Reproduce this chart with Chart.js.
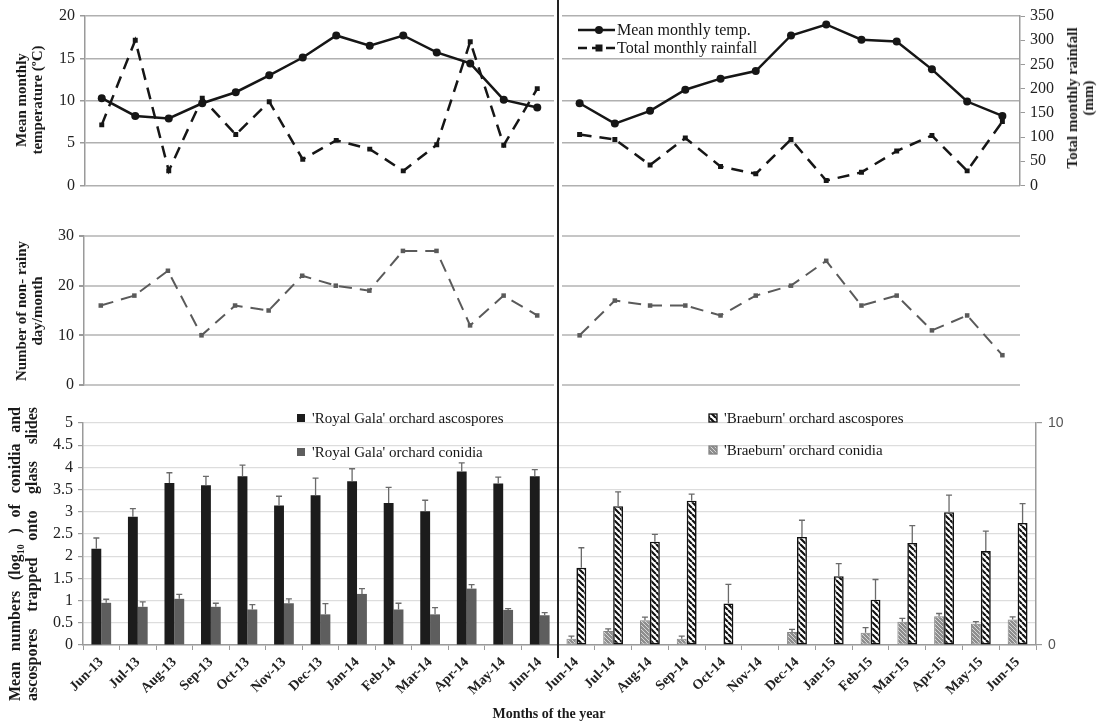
<!DOCTYPE html>
<html>
<head>
<meta charset="utf-8">
<script src="https://cdn.jsdelivr.net/npm/chart.js@4.4.1/dist/chart.umd.min.js"></script>
<style>
  html, body { margin: 0; padding: 0; background: #fff; }
  #page { position: relative; width: 1104px; height: 725px; overflow: hidden; font-family: "Liberation Serif", "Times New Roman", serif; color: #1a1a1a; }
  .box { position: absolute; }
  .box canvas { display: block; }
  .ytitle { position: absolute; font-weight: bold; font-size: 15px; line-height: 16px; text-align: center; white-space: nowrap;
            transform: translate(-50%, -50%) rotate(-90deg); transform-origin: center center; }
  .ytitle.just { white-space: normal; text-align: justify; text-align-last: justify; font-size: 16px; line-height: 17px; }
  .ytitle sub { font-size: 10px; line-height: 0; }
  .xtitle { position: absolute; font-weight: bold; font-size: 14px; transform: translate(-50%, -50%); white-space: nowrap; }
  .divider { position: absolute; left: 557px; top: 0; width: 2px; height: 658px; background: #222; }
</style>
</head>
<body>
<div id="page">
  <div class="box" style="left:0;top:0;width:558px;height:200px"><canvas id="topLeft" width="558" height="200"></canvas></div>
  <div class="box" style="left:558px;top:0;width:546px;height:200px"><canvas id="topRight" width="546" height="200"></canvas></div>
  <div class="box" style="left:0;top:200px;width:558px;height:200px"><canvas id="midLeft" width="558" height="200"></canvas></div>
  <div class="box" style="left:558px;top:200px;width:546px;height:200px"><canvas id="midRight" width="546" height="200"></canvas></div>
  <div class="box" style="left:0;top:400px;width:558px;height:325px"><canvas id="botLeft" width="558" height="325"></canvas></div>
  <div class="box" style="left:500px;top:400px;width:604px;height:325px"><canvas id="botRight" width="604" height="325"></canvas></div>

  <div class="ytitle" style="left:29px;top:100px">Mean monthly<br>temperature (ºC)</div>
  <div class="ytitle" style="left:1080px;top:98px">Total monthly rainfall<br>(mm)</div>
  <div class="ytitle" style="left:29px;top:311px">Number of non- rainy<br>day/month</div>
  <div class="ytitle just" style="left:23px;top:554px;width:294px">Mean numbers (log<sub>10</sub> ) of conidia and ascospores trapped onto glass slides</div>
  <div class="xtitle" style="left:549px;top:714px">Months of the year</div>
  <div class="divider"></div>
</div>

<script>
// ---- Weather, Royal Gala season (Jun-13 onwards) ----
const weatherMonthsA = ['Jun-13','Jul-13','Aug-13','Sep-13','Oct-13','Nov-13','Dec-13','Jan-14','Feb-14','Mar-14','Apr-14','May-14','Jun-14','Jul-14'];
const tempA     = [10.3, 8.2, 7.9, 9.7, 11.0, 13.0, 15.1, 17.7, 16.5, 17.7, 15.7, 14.4, 10.1, 9.2];
const rainA     = [125, 300, 30, 180, 105, 173, 54, 93, 75, 30, 84, 297, 83, 200];
const dryDaysA  = [16, 18, 23, 10, 16, 15, 22, 20, 19, 27, 27, 12, 18, 14];

// ---- Weather, Braeburn season (Jun-14 onwards) ----
const weatherMonthsB = ['Jun-14','Jul-14','Aug-14','Sep-14','Oct-14','Nov-14','Dec-14','Jan-15','Feb-15','Mar-15','Apr-15','May-15','Jun-15'];
const tempB     = [9.7, 7.3, 8.8, 11.3, 12.6, 13.5, 17.7, 19.0, 17.2, 17.0, 13.7, 9.9, 8.2];
const rainB     = [105, 95, 42, 98, 39, 24, 95, 10, 27, 71, 103, 30, 132];
const dryDaysB  = [10, 17, 16, 16, 14, 18, 20, 25, 16, 18, 11, 14, 6];

// ---- Spore trapping ----
const monthsA = ['Jun-13','Jul-13','Aug-13','Sep-13','Oct-13','Nov-13','Dec-13','Jan-14','Feb-14','Mar-14','Apr-14','May-14','Jun-14'];
const monthsB = ['Jun-14','Jul-14','Aug-14','Sep-14','Oct-14','Nov-14','Dec-14','Jan-15','Feb-15','Mar-15','Apr-15','May-15','Jun-15'];
const galaAsco      = [2.17, 2.89, 3.65, 3.60, 3.80, 3.14, 3.37, 3.69, 3.20, 3.01, 3.91, 3.64, 3.80];
const galaAscoErr   = [0.24, 0.18, 0.23, 0.20, 0.25, 0.21, 0.39, 0.28, 0.35, 0.25, 0.19, 0.14, 0.15];
const galaConidia   = [0.95, 0.86, 1.04, 0.86, 0.80, 0.94, 0.69, 1.15, 0.80, 0.69, 1.27, 0.79, 0.67];
const galaConidErr  = [0.08, 0.11, 0.10, 0.08, 0.11, 0.10, 0.24, 0.12, 0.14, 0.15, 0.09, 0.03, 0.06];
const braeAsco      = [3.48, 6.25, 4.65, 6.50, 1.87, 0, 4.87, 3.10, 2.04, 4.60, 5.98, 4.23, 5.50];
const braeAscoErr   = [0.90, 0.65, 0.33, 0.30, 0.86, 0, 0.75, 0.57, 0.91, 0.78, 0.77, 0.90, 0.87];
const braeConidia   = [0.28, 0.63, 1.11, 0.28, 0, 0, 0.58, 0, 0.55, 1.05, 1.30, 0.96, 1.15];
const braeConidErr  = [0.12, 0.10, 0.15, 0.12, 0, 0, 0.12, 0, 0.23, 0.15, 0.12, 0.09, 0.12];

// ---- Look ----
const SERIF = '"Liberation Serif", "Times New Roman", serif';
const SANS = '"Liberation Sans", Arial, sans-serif';
const INK = '#161616';
const AXIS = '#9a9a9a';

function hatch(bg, fg, size, lw) {
  const c = document.createElement('canvas');
  c.width = c.height = size;
  const g = c.getContext('2d');
  g.fillStyle = bg; g.fillRect(0, 0, size, size);
  g.strokeStyle = fg; g.lineWidth = lw;
  g.beginPath();
  for (let k = -size; k <= size; k += size) { g.moveTo(k, 0); g.lineTo(k + size, size); }
  g.stroke();
  return g.createPattern(c, 'repeat');
}
const ascoHatch = hatch('#ffffff', '#111111', 6, 2.2);
const conidHatch = hatch('#8e8e8e', '#d6d6d6', 4, 1);

// upward whiskers with a short cap
const errorBars = {
  id: 'errorBars',
  afterDatasetsDraw(chart) {
    const ctx = chart.ctx;
    chart.data.datasets.forEach((ds, i) => {
      if (!ds.errors) return;
      const meta = chart.getDatasetMeta(i);
      const scale = chart.scales[meta.yAxisID];
      ctx.save();
      ctx.strokeStyle = '#6a6a6a';
      ctx.lineWidth = 1.3;
      meta.data.forEach((bar, j) => {
        const v = ds.data[j], e = ds.errors[j];
        if (v == null || !e) return;
        const top = scale.getPixelForValue(v + e);
        ctx.beginPath();
        ctx.moveTo(bar.x, bar.y); ctx.lineTo(bar.x, top);
        ctx.moveTo(bar.x - 3, top); ctx.lineTo(bar.x + 3, top);
        ctx.stroke();
      });
      ctx.restore();
    });
  }
};

// legend entries placed inside the plot
const inlineLegend = {
  id: 'inlineLegend',
  afterDraw(chart, args, opts) {
    const ctx = chart.ctx;
    (opts.items || []).forEach(it => {
      ctx.save();
      if (it.kind === 'line') {
        ctx.strokeStyle = INK; ctx.fillStyle = INK; ctx.lineWidth = 2.5;
        ctx.setLineDash(it.dash || []);
        ctx.beginPath(); ctx.moveTo(it.x, it.y); ctx.lineTo(it.x + 37, it.y); ctx.stroke();
        ctx.setLineDash([]);
        const cx = it.x + 21;
        if (it.marker === 'circle') { ctx.beginPath(); ctx.arc(cx, it.y, 4, 0, Math.PI * 2); ctx.fill(); }
        else { ctx.fillRect(cx - 3.5, it.y - 3.5, 7, 7); }
        ctx.fillStyle = INK;
        ctx.font = '16px ' + SERIF;
        ctx.textBaseline = 'middle';
        ctx.fillText(it.text, it.x + 39, it.y + 1);
      } else {
        ctx.fillStyle = it.fill;
        ctx.fillRect(it.x, it.y - 4, 8, 8);
        if (it.stroke) { ctx.strokeStyle = it.stroke; ctx.lineWidth = 1.3; ctx.strokeRect(it.x, it.y - 4, 8, 8); }
        ctx.fillStyle = INK;
        ctx.font = '15px ' + SERIF;
        ctx.textBaseline = 'middle';
        ctx.fillText(it.text, it.x + 15, it.y + 1);
      }
      ctx.restore();
    });
  }
};

Chart.register(errorBars, inlineLegend);
Chart.defaults.font.family = SERIF;
Chart.defaults.color = '#222';

const base = {
  responsive: false,
  animation: false,
  devicePixelRatio: 1,
  plugins: { legend: { display: false }, tooltip: { enabled: false } }
};

function leftTicks(max, step, width) {
  return {
    min: 0, max: max,
    ticks: { stepSize: step, color: '#222', font: { family: SERIF, size: 16 }, padding: 5,
             callback: v => String(Math.round(v * 10) / 10) },
    border: { color: AXIS, width: 1.5 },
    afterFit(s) { s.width = width; }
  };
}

const tempStyle = { borderColor: INK, backgroundColor: INK, borderWidth: 2.5, pointStyle: 'circle', pointRadius: 4, pointBorderWidth: 0, tension: 0 };
const rainStyle = { borderColor: INK, backgroundColor: INK, borderWidth: 2.5, borderDash: [12, 8], pointStyle: 'rect', pointRadius: 3.5, pointBorderWidth: 0, tension: 0 };
const dryStyle  = { borderColor: '#5a5a5a', backgroundColor: '#5a5a5a', borderWidth: 2, borderDash: [13, 8], pointStyle: 'rect', pointRadius: 3.2, pointBorderWidth: 0, tension: 0 };
const topGrid = { color: '#b0b0b0', lineWidth: 1.5, tickLength: 5, tickColor: AXIS };
const midGrid = { color: '#c6c6c6', lineWidth: 2, tickLength: 5, tickColor: AXIS };

// ---- Temperature & rainfall, left half ----
new Chart(document.getElementById('topLeft'), {
  type: 'line',
  data: { labels: weatherMonthsA, datasets: [
    Object.assign({ label: 'Mean monthly temp.', data: tempA, yAxisID: 'y' }, tempStyle),
    Object.assign({ label: 'Total monthly rainfall', data: rainA, yAxisID: 'y1' }, rainStyle)
  ]},
  options: Object.assign({}, base, {
    layout: { padding: { top: 16, bottom: 13, left: 0, right: 0 } },
    scales: {
      x: { display: false, offset: true },
      y: Object.assign(leftTicks(20, 5, 85), { grid: topGrid }),
      y1: { display: false, position: 'right', min: 0, max: 350 }
    }
  })
});

// ---- Temperature & rainfall, right half ----
new Chart(document.getElementById('topRight'), {
  type: 'line',
  data: { labels: weatherMonthsB, datasets: [
    Object.assign({ label: 'Mean monthly temp.', data: tempB, yAxisID: 'y' }, tempStyle),
    Object.assign({ label: 'Total monthly rainfall', data: rainB, yAxisID: 'y1' }, rainStyle)
  ]},
  options: Object.assign({}, base, {
    layout: { padding: { top: 16, bottom: 13, left: 1, right: 0 } },
    plugins: Object.assign({}, base.plugins, {
      inlineLegend: { items: [
        { kind: 'line', x: 20, y: 30, marker: 'circle', text: 'Mean monthly temp.' },
        { kind: 'line', x: 20, y: 48, marker: 'rect', dash: [9, 5], text: 'Total monthly rainfall' }
      ]}
    }),
    scales: {
      x: { display: false, offset: true },
      y: { position: 'left', min: 0, max: 20, ticks: { display: false, stepSize: 5 }, border: { display: false },
           grid: { color: '#b0b0b0', lineWidth: 1.5, tickLength: 0 }, afterFit(s) { s.width = 0; } },
      y1: { position: 'right', min: 0, max: 350,
            ticks: { stepSize: 50, color: '#222', font: { family: SERIF, size: 16 }, padding: 5 },
            grid: { drawOnChartArea: false, tickLength: 5, tickColor: AXIS },
            border: { color: AXIS, width: 1.5 },
            afterFit(s) { s.width = 84; } }
    }
  })
});

// ---- Non-rainy days, left half ----
new Chart(document.getElementById('midLeft'), {
  type: 'line',
  data: { labels: weatherMonthsA, datasets: [
    Object.assign({ label: 'Non-rainy days', data: dryDaysA }, dryStyle)
  ]},
  options: Object.assign({}, base, {
    layout: { padding: { top: 36, bottom: 15, left: 0, right: 0 } },
    scales: {
      x: { display: false, offset: true },
      y: Object.assign(leftTicks(30, 10, 84), { grid: midGrid })
    }
  })
});

// ---- Non-rainy days, right half ----
new Chart(document.getElementById('midRight'), {
  type: 'line',
  data: { labels: weatherMonthsB, datasets: [
    Object.assign({ label: 'Non-rainy days', data: dryDaysB }, dryStyle)
  ]},
  options: Object.assign({}, base, {
    layout: { padding: { top: 36, bottom: 15, left: 1, right: 84 } },
    scales: {
      x: { display: false, offset: true },
      y: { min: 0, max: 30, ticks: { display: false, stepSize: 10 }, border: { display: false },
           grid: { color: '#c6c6c6', lineWidth: 2, tickLength: 0 }, afterFit(s) { s.width = 0; } }
    }
  })
});

function monthAxis() {
  return {
    offset: true,
    grid: { offset: true, drawOnChartArea: false, tickLength: 5, color: AXIS },
    border: { color: AXIS, width: 1.5 },
    ticks: { minRotation: 45, maxRotation: 45, autoSkip: false, color: '#222', font: { family: SERIF, size: 14, weight: 'bold' }, padding: 4 },
    afterFit(s) { s.height = 80; s.paddingLeft = 0; s.paddingRight = 0; }
  };
}

// ---- 'Royal Gala' orchard spores ----
new Chart(document.getElementById('botLeft'), {
  type: 'bar',
  data: { labels: monthsA, datasets: [
    { label: "'Royal Gala' orchard ascospores", data: galaAsco, errors: galaAscoErr, backgroundColor: '#1c1c1c' },
    { label: "'Royal Gala' orchard conidia", data: galaConidia, errors: galaConidErr, backgroundColor: '#5e5e5e' }
  ]},
  options: Object.assign({}, base, {
    layout: { padding: { top: 23, bottom: 0, left: 0, right: 0 } },
    datasets: { bar: { categoryPercentage: 0.54, barPercentage: 1 } },
    plugins: Object.assign({}, base.plugins, {
      inlineLegend: { items: [
        { kind: 'box', x: 297, y: 18, fill: '#1c1c1c', text: "'Royal Gala' orchard ascospores" },
        { kind: 'box', x: 297, y: 52, fill: '#5e5e5e', text: "'Royal Gala' orchard conidia" }
      ]}
    }),
    scales: {
      x: monthAxis(),
      y: Object.assign(leftTicks(5, 0.5, 83), { grid: { color: '#dddddd', lineWidth: 1.2, tickLength: 5, tickColor: AXIS } })
    }
  })
});

// ---- 'Braeburn' orchard spores (canvas starts 58px left of its plot so the first label fits) ----
new Chart(document.getElementById('botRight'), {
  type: 'bar',
  data: { labels: monthsB, datasets: [
    { label: "'Braeburn' orchard conidia", data: braeConidia, errors: braeConidErr, yAxisID: 'y1',
      backgroundColor: conidHatch, borderColor: '#858585', borderWidth: 1, borderSkipped: false },
    { label: "'Braeburn' orchard ascospores", data: braeAsco, errors: braeAscoErr, yAxisID: 'y1',
      backgroundColor: ascoHatch, borderColor: '#111111', borderWidth: 1.6, borderSkipped: false }
  ]},
  options: Object.assign({}, base, {
    layout: { padding: { top: 23, bottom: 0, left: 58, right: 0 } },
    datasets: { bar: { categoryPercentage: 0.54, barPercentage: 1 } },
    plugins: Object.assign({}, base.plugins, {
      inlineLegend: { items: [
        { kind: 'box', x: 209, y: 18, fill: ascoHatch, stroke: '#111', text: "'Braeburn' orchard ascospores" },
        { kind: 'box', x: 209, y: 50, fill: conidHatch, stroke: '#858585', text: "'Braeburn' orchard conidia" }
      ]}
    }),
    scales: {
      x: monthAxis(),
      y1: { position: 'right', min: 0, max: 10,
            ticks: { stepSize: 1, padding: 6, color: '#555', font: { family: SANS, size: 14 },
                     callback: v => (v === 0 || v === 10) ? String(v) : '' },
            grid: { color: '#dddddd', lineWidth: 1.2, tickLength: 6,
                    tickColor: c => (c.tick && (c.tick.value === 0 || c.tick.value === 10)) ? AXIS : 'rgba(0,0,0,0)' },
            border: { color: AXIS, width: 1.5 },
            afterFit(s) { s.width = 68; } }
    }
  })
});
</script>
</body>
</html>
